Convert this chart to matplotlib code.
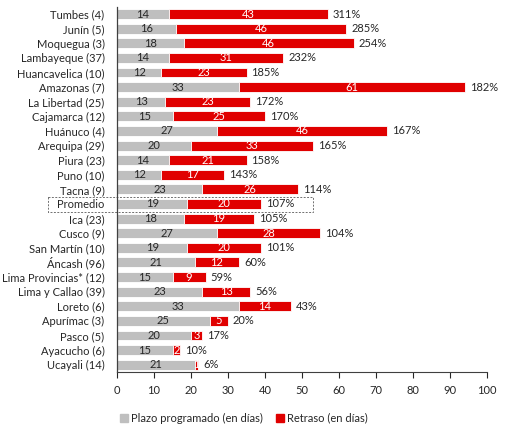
import matplotlib
matplotlib.use("Agg")
from matplotlib import pyplot as plt
from matplotlib.patches import Rectangle, Patch
import numpy as np

regions = [
    "Tumbes (4)", "Junín (5)", "Moquegua (3)", "Lambayeque (37)", "Huancavelica (10)",
    "Amazonas (7)", "La Libertad (25)", "Cajamarca (12)", "Huánuco (4)", "Arequipa (29)",
    "Piura (23)", "Puno (10)", "Tacna (9)", "Promedio", "Ica (23)", "Cusco (9)",
    "San Martín (10)", "Áncash (96)", "Lima Provincias* (12)", "Lima y Callao (39)",
    "Loreto (6)", "Apurímac (3)", "Pasco (5)", "Ayacucho (6)", "Ucayali (14)",
]
plazo = [14, 16, 18, 14, 12, 33, 13, 15, 27, 20, 14, 12, 23, 19, 18, 27, 19, 21, 15, 23, 33, 25, 20, 15, 21]
retraso = [43, 46, 46, 31, 23, 61, 23, 25, 46, 33, 21, 17, 26, 20, 19, 28, 20, 12, 9, 13, 14, 5, 3, 2, 1]
pct = ["311%", "285%", "254%", "232%", "185%", "182%", "172%", "170%", "167%", "165%",
       "158%", "143%", "114%", "107%", "105%", "104%", "101%", "60%", "59%", "56%",
       "43%", "20%", "17%", "10%", "6%"]

GRAY = "#BFBFBF"
RED = "#E00000"
TXT = "#262626"
FS = 8

plt.rcParams["font.family"] = ["Lato", "DejaVu Sans"]

fig = plt.figure(figsize=(5.21, 4.28), dpi=100)
ax = fig.add_axes([0.2246, 0.1308, 0.7101, 0.8535])

y = np.arange(len(regions))
plazo = np.array(plazo)
retraso = np.array(retraso)

ax.barh(y, plazo, height=0.68, color=GRAY, edgecolor="white", linewidth=0.6)
ax.barh(y, retraso, left=plazo, height=0.68, color=RED, edgecolor="white", linewidth=0.6)

for i in range(len(regions)):
    ax.text(plazo[i] / 2, y[i], str(plazo[i]), ha="center", va="center",
            fontsize=FS, color=TXT)
    ax.text(plazo[i] + retraso[i] / 2, y[i], str(retraso[i]), ha="center", va="center",
            fontsize=FS, color="white")
    ax.text(plazo[i] + retraso[i] + 1.3, y[i], pct[i], ha="left", va="center",
            fontsize=FS, color=TXT)

ax.set_xlim(0, 100)
ax.set_ylim(len(regions) - 0.5, -0.5)
ax.set_xticks(np.arange(0, 101, 10))
ax.set_yticks(y)
ax.set_yticklabels(regions, fontsize=FS, color=TXT)
ax.tick_params(axis="y", length=0, pad=9)
ax.tick_params(axis="x", labelsize=FS, colors=TXT, length=4, width=0.8, direction="out", pad=5)
for s in ["top", "right"]:
    ax.spines[s].set_visible(False)
ax.spines["left"].set_color("#404040")
ax.spines["bottom"].set_color("#404040")
ax.spines["left"].set_linewidth(0.9)
ax.spines["bottom"].set_linewidth(0.8)

# dashed box around the Promedio row
ip = regions.index("Promedio")
ax.add_patch(Rectangle((-18.6, ip - 0.45), 71.6, 1.03, fill=False, linestyle=(0, (2, 1.5)),
                       edgecolor="#707070", linewidth=0.7, clip_on=False))

handles = [Patch(color=GRAY, label="Plazo programado (en días)"),
           Patch(color=RED, label="Retraso (en días)")]
fig.legend(handles=handles, loc="center", bbox_to_anchor=(244 / 521, 1 - 418 / 428),
           ncol=2, frameon=False, fontsize=FS, handlelength=0.7, handleheight=0.7,
           handletextpad=0.3, columnspacing=1.2, labelcolor=TXT)

fig.savefig("out.png", dpi=100)
